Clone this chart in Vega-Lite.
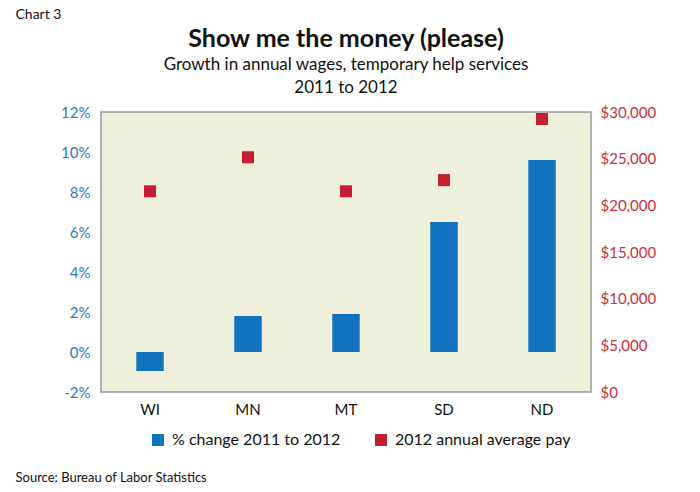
{
  "$schema": "https://vega.github.io/schema/vega-lite/v6.json",
  "width": 490,
  "height": 280,
  "autosize": {"type": "none"},
  "padding": {"left": 101, "top": 112, "right": 109, "bottom": 100},
  "background": "white",
  "config": {
    "font": "Lato",
    "view": {"fill": "#EEF0DC", "stroke": "#9a9a9a", "strokeWidth": 1.5}
  },
  "title": {
    "text": "Show me the money (please)",
    "subtitle": ["Growth in annual wages, temporary help services", "2011 to 2012"],
    "anchor": "middle",
    "fontSize": 25,
    "fontWeight": "bold",
    "color": "#111111",
    "subtitleFontSize": 17,
    "subtitleColor": "#111111",
    "subtitleLineHeight": 23,
    "subtitlePadding": 5,
    "offset": -89
  },
  "data": {
    "values": [
      {"state": "WI", "pct": -0.0095, "pay": 21500},
      {"state": "MN", "pct": 0.018, "pay": 25150},
      {"state": "MT", "pct": 0.019, "pay": 21500},
      {"state": "SD", "pct": 0.065, "pay": 22700},
      {"state": "ND", "pct": 0.096, "pay": 29250}
    ]
  },
  "encoding": {
    "x": {
      "field": "state",
      "type": "nominal",
      "sort": null,
      "scale": {"paddingInner": 0.72, "paddingOuter": 0.36},
      "axis": {
        "labelAngle": 0,
        "ticks": false,
        "domain": false,
        "labelFontSize": 15,
        "labelColor": "#111111",
        "labelPadding": 10,
        "labelDx": 7,
        "title": "Source: Bureau of Labor Statistics",
        "titleFontSize": 13,
        "titleFontWeight": "normal",
        "titleColor": "#111111",
        "titleAlign": "left",
        "titleBaseline": "top",
        "titleAnchor": "start",
        "titleX": -86,
        "titleY": 79
      }
    }
  },
  "layer": [
    {
      "encoding": {
        "y": {
          "field": "pct",
          "type": "quantitative",
          "scale": {"domain": [-0.02, 0.12], "nice": false},
          "axis": {
            "orient": "left",
            "values": [-0.02, 0, 0.02, 0.04, 0.06, 0.08, 0.1, 0.12],
            "format": ".0%",
            "labelExpr": "replace(datum.label, '\u2212', '-')",
            "ticks": false,
            "domain": false,
            "grid": false,
            "labelFontSize": 15,
            "labelColor": "#2B7BC0",
            "labelPadding": 11,
            "title": "Chart 3",
            "titleAngle": 0,
            "titleAlign": "left",
            "titleBaseline": "top",
            "titleFontSize": 14,
            "titleFontWeight": "normal",
            "titleColor": "#111111",
            "titleX": -86,
            "titleY": -105
          }
        }
      },
      "layer": [
        {
          "mark": {"type": "bar"},
          "encoding": {
            "color": {
              "datum": "% change 2011 to 2012",
              "type": "nominal",
              "scale": {
                "domain": ["% change 2011 to 2012", "2012 annual average pay"],
                "range": ["#1172BD", "#C41E30"]
              },
              "legend": {
                "orient": "none",
                "legendX": 49,
                "legendY": 320,
                "direction": "horizontal",
                "title": null,
                "symbolType": "square",
                "symbolSize": 144,
                "symbolStrokeWidth": 0,
                "labelFontSize": 16,
                "labelColor": "#111111",
                "labelOffset": 6,
                "labelLimit": 400,
                "columnPadding": 32,
                "padding": 0
              }
            }
          }
        },
        {
          "mark": {"type": "rule", "color": "#333333", "strokeWidth": 1.2},
          "encoding": {"y": {"datum": 0}}
        }
      ]
    },
    {
      "mark": {"type": "square", "size": 144, "opacity": 1},
      "encoding": {
        "y": {
          "field": "pay",
          "type": "quantitative",
          "scale": {"domain": [0, 30000], "nice": false},
          "axis": {
            "orient": "right",
            "values": [0, 5000, 10000, 15000, 20000, 25000, 30000],
            "format": "$,.0f",
            "ticks": false,
            "domain": false,
            "grid": false,
            "labelFontSize": 15,
            "labelColor": "#C8313F",
            "labelPadding": 9,
            "title": null
          }
        },
        "color": {"datum": "2012 annual average pay", "type": "nominal"}
      }
    }
  ],
  "resolve": {"scale": {"y": "independent"}}
}
